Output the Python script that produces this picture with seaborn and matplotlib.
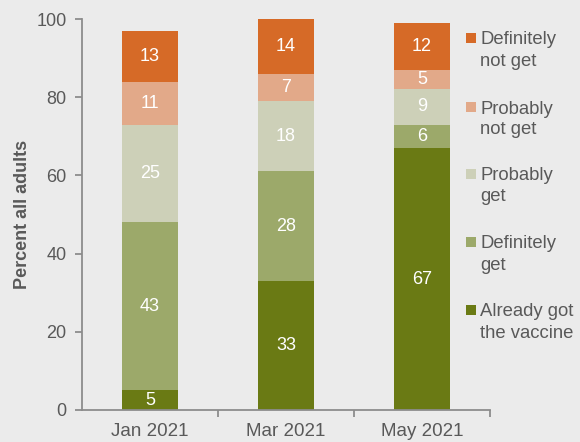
import matplotlib
matplotlib.use("Agg")
import matplotlib.pyplot as plt
import seaborn as sns
import pandas as pd
import numpy as np
from matplotlib.patches import Rectangle

months = ["Jan 2021", "Mar 2021", "May 2021"]
already = [5, 33, 67]
definitely_get = [43, 28, 6]
probably_get = [25, 18, 9]
probably_not = [11, 7, 5]
definitely_not = [13, 14, 12]

series = [
    ("Already got\nthe vaccine", already, "#6A7A14"),
    ("Definitely\nget", definitely_get, "#9CA96A"),
    ("Probably\nget", probably_get, "#CDD0B8"),
    ("Probably\nnot get", probably_not, "#E2A989"),
    ("Definitely\nnot get", definitely_not, "#D66A27"),
]

sns.set_theme(style="white")
plt.rcParams["font.family"] = ["Liberation Sans", "DejaVu Sans"]
bg = "#EBEBEB"
txt = "#595959"
axc = "#8C8C8C"

W, H = 580, 442
fig = plt.figure(figsize=(W/100, H/100), dpi=100, facecolor=bg)
ax = fig.add_axes([82/W, 1-410/H, (490-82)/W, (410-19)/H])
ax.set_facecolor(bg)

bottom = np.zeros(len(months))
for name, vals, col in series:
    df = pd.DataFrame({"month": months, "value": vals})
    sns.barplot(data=df, x="month", y="value", color=col, width=0.41,
                bottom=bottom.copy(), ax=ax, saturation=1, edgecolor="none",
                linewidth=0)
    cont = ax.containers[-1]
    ax.bar_label(cont, labels=[str(v) for v in vals], label_type="center",
                 color="white", fontsize=13)
    bottom += np.array(vals)

ax.set_xlim(-0.5, 2.5)
ax.set_ylim(0, 100)
ax.set_yticks([0, 20, 40, 60, 80, 100])
ax.set_xticks([0, 1, 2])
ax.set_xticklabels(months)
ax.set_xticks([0.5, 1.5, 2.5], minor=True)
ax.tick_params(axis="x", which="major", length=0, labelsize=13.5, labelcolor=txt, pad=9)
ax.tick_params(axis="x", which="minor", length=5, width=1.3, color=axc, direction="out", bottom=True)
ax.tick_params(axis="y", length=5, width=1.3, color=axc, labelsize=13, labelcolor=txt, direction="out", left=True, pad=6)
ax.set_xlabel("")
ax.set_ylabel("Percent all adults", fontsize=13, fontweight="bold", color=txt, labelpad=4)
for s in ["top", "right"]:
    ax.spines[s].set_visible(False)
for s in ["left", "bottom"]:
    ax.spines[s].set_color(axc)
    ax.spines[s].set_linewidth(1.3)

# legend drawn manually (handle aligned with first text line)
centers = [38, 107, 174, 242, 310]
for (name, _, col), yc in zip(series[::-1], centers):
    fig.patches.append(Rectangle((466/W, 1-(yc+5)/H), 10/W, 10/H, transform=fig.transFigure,
                                 facecolor=col, edgecolor="none"))
    for i, line in enumerate(name.split("\n")):
        fig.text(480/W, 1-(yc + 6.5 + 21*i)/H, line, fontsize=13.3, color=txt,
                 ha="left", va="baseline")

fig.savefig("out.png", dpi=100, facecolor=bg)
